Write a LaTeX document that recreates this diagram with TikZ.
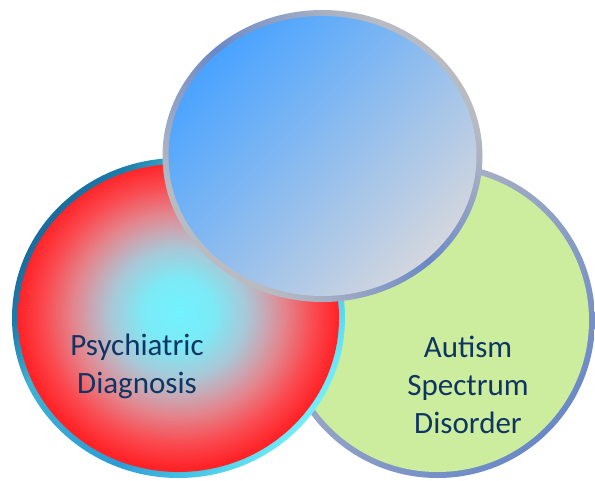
\documentclass[tikz,border=0pt]{standalone}
\usepackage{fontspec}
\setmainfont{Carlito}
\usepackage{xcolor}
\usepackage{tikz}
\usetikzlibrary{positioning}

\definecolor{labelnavy}{HTML}{0F3562}
\definecolor{rimgray}{HTML}{B9BBC2}
\definecolor{rimblue}{HTML}{6A88C8}
\definecolor{asdgreen}{HTML}{CCEC9E}
\definecolor{psydark}{HTML}{1A6C9C}
\definecolor{psylight}{HTML}{74EEFA}
\definecolor{capblue}{HTML}{4AA3FF}
\definecolor{capgray}{HTML}{D3D6DE}

% cyan glow fading out to red
\pgfdeclareradialshading{diagglow}{\pgfpoint{0bp}{1bp}}{%
  color(0bp)=(rgb,255:red,114;green,242;blue,255);
  color(5.5bp)=(rgb,255:red,124;green,234;blue,246);
  color(10.5bp)=(rgb,255:red,168;green,200;blue,216);
  color(13.5bp)=(rgb,255:red,200;green,168;blue,180);
  color(16.5bp)=(rgb,255:red,228;green,132;blue,140);
  color(21bp)=(rgb,255:red,250;green,74;blue,80);
  color(25bp)=(rgb,255:red,255;green,34;blue,38);
  color(50bp)=(rgb,255:red,255;green,34;blue,38)}

% teal rim of the red disc, dark on the left
\pgfdeclareverticalshading{psyring}{100bp}{%
  color(0bp)=(psydark); color(25bp)=(psydark);
  color(30bp)=(rgb,255:red,30;green,124;blue,170);
  color(37bp)=(rgb,255:red,62;green,178;blue,210);
  color(55bp)=(rgb,255:red,44;green,156;blue,212);
  color(66bp)=(rgb,255:red,72;green,200;blue,230);
  color(75bp)=(psylight); color(100bp)=(psylight)}

% gray - blue - gray rim for the top disc
\pgfdeclareverticalshading{capring}{100bp}{%
  color(0bp)=(rimgray); color(28bp)=(rimgray);
  color(50bp)=(rimblue);
  color(72bp)=(rimgray); color(100bp)=(rimgray)}

\begin{document}
\begin{tikzpicture}[x=1pt, y=-1pt]
        \tikzset{
            caption/.style={
                font=\fontsize{31}{38}\selectfont,
                text=labelnavy,
                align=center,
                inner sep=0pt,
            }
        }
        \useasboundingbox (0,0) rectangle (595,480);

        \coordinate (asd) at (437.5,320.5);
        \coordinate (psy) at (178.5,318);
        \coordinate (cap) at (322.5,156);

        % green disc at the back
        \shade[top color=rimgray, bottom color=rimblue, shading angle=45]
            (asd) circle[radius=157.5];
        \fill[asdgreen] (asd) circle[radius=151.5];

        % red disc with the cyan glow
        \shade[shading=psyring, shading angle=-125]
            (psy) ellipse[x radius=166.5, y radius=160];
        \shade[shading=diagglow] (psy) ellipse[x radius=160.5, y radius=154];

        % blue disc on top
        \shade[shading=capring, shading angle=-45]
            (cap) ellipse[x radius=160, y radius=146];
        \shade[top color=capblue, bottom color=capgray, shading angle=45]
            (cap) ellipse[x radius=154, y radius=140];

        \node[caption] (psytext) at (137,366) {Psychiatric\\Diagnosis};
        \node[caption] (asdtext) at (468,385) {Autism\\Spectrum\\Disorder};
    \end{tikzpicture}
\end{document}
